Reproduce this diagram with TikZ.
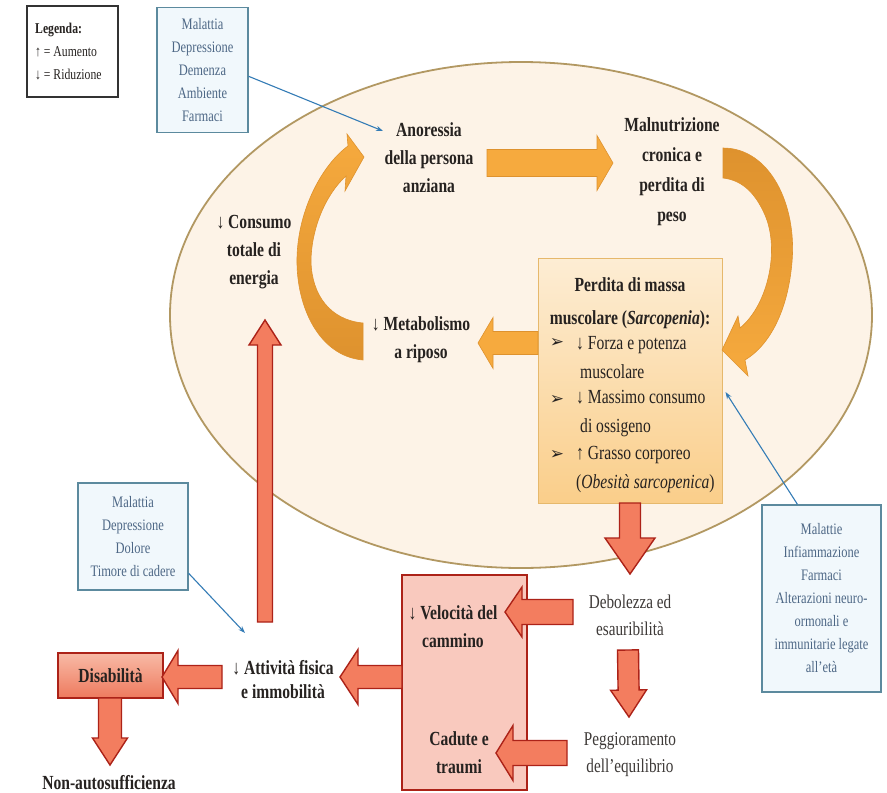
\documentclass[tikz,border=0pt]{standalone}
\usepackage{fontspec}
\setmainfont{Liberation Serif}[FakeStretch=0.78]
\newfontfamily\dingfont{DejaVu Sans}
\usetikzlibrary{calc,arrows.meta}

\definecolor{txt}{RGB}{38,34,32}
\definecolor{softtxt}{RGB}{62,58,56}
\definecolor{ellfill}{RGB}{253,243,231}
\definecolor{elldraw}{RGB}{178,152,98}
\definecolor{notebg}{RGB}{241,248,252}
\definecolor{notebd}{RGB}{92,138,158}
\definecolor{notetx}{RGB}{78,104,134}
\definecolor{link}{RGB}{52,124,182}
\definecolor{orfill}{RGB}{246,170,62}
\definecolor{ordark}{RGB}{222,146,46}
\definecolor{redfill}{RGB}{243,125,95}
\definecolor{reddraw}{RGB}{172,34,24}
\definecolor{pinkfill}{RGB}{249,201,190}
\definecolor{distop}{RGB}{248,186,166}
\definecolor{disbot}{RGB}{238,122,94}
\definecolor{boxtop}{RGB}{253,237,212}
\definecolor{boxbot}{RGB}{250,206,138}
\definecolor{boxbd}{RGB}{230,184,108}

% block arrow: [style]{from}{to}{shaft half width}{head half width}{head length}
\newcommand\barrow[6][]{%
  \coordinate (hb) at ($(#3)!#6!(#2)$);
  \filldraw[#1]
    ($(#2)!#4!90:(#3)$) -- ($(hb)!#4!-90:(#2)$) -- ($(hb)!#5!-90:(#2)$)
    -- (#3) -- ($(hb)!#5!90:(#2)$) -- ($(hb)!#4!90:(#2)$)
    -- ($(#2)!#4!-90:(#3)$) -- cycle;
}

\begin{document}
\begin{tikzpicture}[x=1pt,y=-1pt,
  lbl/.style={font=\fontsize{20}{28}\selectfont\bfseries, text=txt, align=center, inner sep=0pt},
  plain/.style={font=\fontsize{19.5}{27}\selectfont, text=softtxt, align=center, inner sep=0pt},
  item/.style={font=\fontsize{20}{29}\selectfont, text=txt, align=left, inner sep=0pt, anchor=west},
  blt/.style={font=\dingfont\fontsize{17}{17}\selectfont, text=txt, inner sep=0pt},
  note/.style={draw=notebd, fill=notebg, line width=1.3pt, text=notetx, align=center,
    font=\fontsize{16}{23}\selectfont, inner sep=0pt},
  link/.style={draw=link, line width=1.1pt, -{Stealth[length=7pt,width=5pt]}},
  redarr/.style={fill=redfill, draw=reddraw, line width=1.4pt, line join=miter},
  orarr/.style={fill=orfill, draw=ordark, line width=0.6pt},
  orarc/.style={draw=ordark, line width=0.6pt},
]
\useasboundingbox[fill=white] (0,0) rectangle (887,793);

% the cycle of the older person
\filldraw[fill=ellfill, draw=elldraw, line width=1.8pt] (521,315) ellipse (351 and 253);

% legend
\node[draw=black!80, line width=1.6pt, minimum width=91pt, minimum height=91pt] (leg) at (72.5,51.5) {};
\node[anchor=west, align=left, font=\fontsize{15}{23}\selectfont, text=txt, inner sep=0pt] (legt) at (35,52)
  {\textbf{Legenda:}\\↑ = Aumento\\↓ = Riduzione};

% causes boxes
\node[note, minimum width=91pt, minimum height=125pt] (ntl) at (202.5,70)
  {Malattia\\Depressione\\Demenza\\Ambiente\\Farmaci};
\node[note, minimum width=110pt, minimum height=107pt] (nl) at (133,536.5)
  {Malattia\\Depressione\\Dolore\\Timore di cadere};
\node[note, minimum width=119pt, minimum height=187pt] (nr) at (821.5,598.5)
  {Malattie\\Infiammazione\\Farmaci\\Alterazioni neuro-\\ormonali e\\immunitarie legate\\all'età};

% sarcopenia box
\node[draw=boxbd, line width=1pt, top color=boxtop, bottom color=boxbot,
  minimum width=184pt, minimum height=245pt] (osb) at (630,380.5) {};
\node[lbl, font=\fontsize{20}{33}\selectfont\bfseries] (ostit) at (630,303.5)
  {Perdita di massa\\muscolare (\textit{Sarcopenia}):};
\node[blt] (b1) at (557,343) {➢};
\node[blt] (b2) at (557,400) {➢};
\node[blt] (b3) at (557,455) {➢};
\node[item] (i1) at (576,357.5) {↓ Forza e potenza\\\hspace{4pt}muscolare};
\node[item] (i2) at (576,414) {↓ Massimo consumo\\\hspace{4pt}di ossigeno};
\node[item] (i3) at (576,469.5) {↑ Grasso corporeo\\(\textit{Obesità sarcopenica})};

% labels inside the cycle
\node[lbl] (anor) at (429,158) {Anoressia\\della persona\\anziana};
\node[lbl, font=\fontsize{20}{30}\selectfont\bfseries] (maln) at (672,172) {Malnutrizione\\cronica e\\perdita di\\peso};
\node[lbl] (cons) at (254,252) {↓ Consumo\\totale di\\energia};
\node[lbl] (meta) at (421,340) {↓ Metabolismo\\a riposo};

% consequences
\node[plain] (debo) at (630,615.5) {Debolezza ed\\esauribilità};
\node[plain] (pegg) at (630,755) {Peggioramento\\dell'equilibrio};
\node[draw=reddraw, fill=pinkfill, line width=2pt, minimum width=125pt, minimum height=215pt] (pink) at (464.5,682.5) {};
\node[lbl] (velo) at (453,627) {↓ Velocità del\\cammino};
\node[lbl] (cadu) at (459,753) {Cadute e\\traumi};
\node[lbl, font=\fontsize{20}{24}\selectfont\bfseries] (atti) at (283,680) {↓ Attività fisica\\e immobilità};
\node[draw=reddraw, line width=1.5pt, top color=distop, bottom color=disbot,
  minimum width=105pt, minimum height=45pt, lbl] (disa) at (110.5,675.5) {Disabilità};
\node[lbl] (nona) at (109,783) {Non-autosufficienza};

% curved arrows of the cycle
\path[orarc, top color=ordark, bottom color=orfill]
  (723,148) .. controls (770,148) and (797,205) .. (792,262)
  .. controls (788,310) and (770,345) .. (745,360) -- (748,376) -- (722,350)
  -- (738,316) -- (740,328) .. controls (768,305) and (780,250) .. (765,215)
  .. controls (754,190) and (740,180) .. (723,178) -- cycle;
\path[orarc, top color=orfill, bottom color=ordark]
  (363,360) .. controls (318,356) and (296,305) .. (297,258)
  .. controls (298,210) and (322,165) .. (348,146) -- (347,134) -- (364,157)
  -- (345,191) -- (346,176) .. controls (325,195) and (311,230) .. (311,262)
  .. controls (312,295) and (330,320) .. (363,323) -- cycle;

% straight arrows of the cycle
\coordinate (am-s) at (487,163);  \coordinate (am-e) at (613,163);
\coordinate (om-s) at (538,343);  \coordinate (om-e) at (478,343);
\barrow[orarr]{am-s}{am-e}{13.5pt}{27.5pt}{16pt}
\barrow[orarr]{om-s}{om-e}{11.5pt}{25.5pt}{15pt}

% red arrows
\coordinate (up-s) at (265,622);   \coordinate (up-e) at (265,320);
\coordinate (od-s) at (630,503);   \coordinate (od-e) at (630,574);
\coordinate (dp-s) at (628,650);   \coordinate (dp-e) at (629,717);
\coordinate (dv-s) at (573,612);   \coordinate (dv-e) at (505,612);
\coordinate (pc-s) at (567,753);   \coordinate (pc-e) at (496,753);
\coordinate (pa-s) at (402,677);   \coordinate (pa-e) at (340,677);
\coordinate (ad-s) at (222,677);   \coordinate (ad-e) at (162,677);
\coordinate (dn-s) at (110,698);   \coordinate (dn-e) at (110,765);
\barrow[redarr]{up-s}{up-e}{7.5pt}{16pt}{25pt}
\barrow[redarr]{od-s}{od-e}{10.5pt}{25pt}{36pt}
\barrow[redarr]{dp-s}{dp-e}{10.5pt}{18pt}{27pt}
\barrow[redarr]{dv-s}{dv-e}{12.5pt}{25pt}{17pt}
\barrow[redarr]{pc-s}{pc-e}{12.5pt}{27.5pt}{17pt}
\barrow[redarr]{pa-s}{pa-e}{11.5pt}{27.5pt}{18pt}
\barrow[redarr]{ad-s}{ad-e}{11.5pt}{26.5pt}{16pt}
\barrow[redarr]{dn-s}{dn-e}{11.5pt}{17.5pt}{27pt}

% links from the causes
\coordinate (ntl-out) at ($(ntl.north east)!0.55!(ntl.south east)$);
\coordinate (anor-in) at (383,131);
\coordinate (nl-out) at ($(nl.south east)!0.16!(nl.north east)$);
\coordinate (atti-in) at (245,633);
\coordinate (nr-out) at ($(nr.north west)!0.3!(nr.north east)$);
\coordinate (osb-in) at ($(osb.east)+(3,11.5)$);
\draw[link] (ntl-out) -- (anor-in);
\draw[link] (nl-out) -- (atti-in);
\draw[link] (nr-out) -- (osb-in);
\end{tikzpicture}
\end{document}
